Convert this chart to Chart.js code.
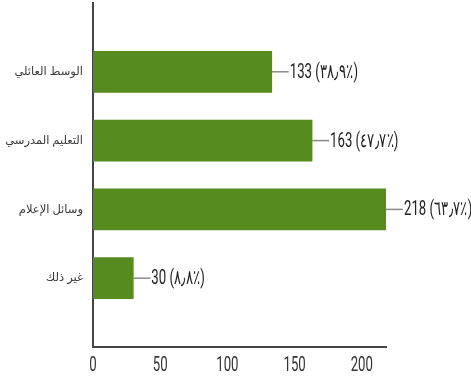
<!DOCTYPE html>
<html>
<head>
<meta charset="utf-8">
<script src="https://cdn.jsdelivr.net/npm/chart.js@4"></script>
<style>
  html, body { margin: 0; padding: 0; background: #fff; }
  #wrap { width: 471px; height: 383px; }
</style>
</head>
<body>
<div id="wrap"><canvas id="sourcesChart"></canvas></div>
<script>
// Sources of information (multiple answers allowed)
const categories = ['الوسط العائلي', 'التعليم المدرسي', 'وسائل الإعلام', 'غير ذلك'];
const counts = [133, 163, 218, 30];
const shares = ['٣٨٫٩٪', '٤٧٫٧٪', '٦٣٫٧٪', '٨٫٨٪'];
const xTicks = [0, 50, 100, 150, 200];

const numFont = '20px Roboto, sans-serif';
const squeeze = 0.66; // narrow the digits horizontally

// blank slots above and below so the bars sit on the inner rows
const yLabels = [' ', ...categories, '  '];

function narrowText(ctx, text, x, y, align) {
    ctx.save();
    ctx.font = numFont;
    ctx.textBaseline = 'middle';
    const w = ctx.measureText(text).width * squeeze;
    let left = x;
    if (align === 'center') left = x - w / 2;
    ctx.translate(left, y);
    ctx.scale(squeeze, 1);
    ctx.textAlign = 'left';
    ctx.fillText(text, 0, 0);
    ctx.restore();
}

const valueLabels = {
    id: 'valueLabels',
    afterDatasetsDraw(chart) {
        const ctx = chart.ctx;
        const meta = chart.getDatasetMeta(0);
        ctx.save();
        meta.data.forEach((bar, i) => {
            const x = bar.x, y = bar.y;
            ctx.strokeStyle = '#8a8a8a';
            ctx.lineWidth = 1.5;
            ctx.beginPath();
            ctx.moveTo(x, y);
            ctx.lineTo(x + 17, y);
            ctx.stroke();
            ctx.fillStyle = '#222';
            narrowText(ctx, counts[i] + ' (' + shares[i] + ')', x + 18, y + 1, 'left');
        });
        // x tick labels
        const xs = chart.scales.x;
        ctx.fillStyle = '#333';
        xTicks.forEach(v => {
            narrowText(ctx, String(v), xs.getPixelForValue(v), xs.top + 19, 'center');
        });
        ctx.restore();
    }
};

new Chart(document.getElementById('sourcesChart'), {
    type: 'bar',
    data: {
        labels: yLabels,
        datasets: [{
            data: counts.map((v, i) => ({ x: v, y: categories[i] })),
            backgroundColor: '#558b1f',
            barThickness: 41
        }]
    },
    options: {
        indexAxis: 'y',
        responsive: true,
        maintainAspectRatio: false,
        animation: false,
        layout: { padding: { top: 3, right: 85, left: 0, bottom: 0 } },
        plugins: { legend: { display: false }, tooltip: { enabled: false } },
        scales: {
            x: {
                min: 0,
                max: 218,
                grid: { display: false, drawTicks: false },
                border: { color: '#444', width: 2 },
                afterBuildTicks(scale) {
                    scale.ticks = xTicks.map(v => ({ value: v }));
                },
                afterFit(scale) { scale.height = 36; },
                ticks: {
                    color: 'rgba(0,0,0,0)',
                    font: { size: 18 }
                }
            },
            y: {
                offset: false,
                grid: { display: false, drawTicks: false },
                border: { color: '#444', width: 2 },
                afterFit(scale) {
                    scale.width = 93;
                    scale.paddingTop = 0;
                    scale.paddingBottom = 0;
                },
                ticks: {
                    padding: 10,
                    color: '#383838',
                    font: { family: '"Noto Sans", "DejaVu Sans", sans-serif', size: 11.5 }
                }
            }
        }
    },
    plugins: [valueLabels]
});
</script>
</body>
</html>
